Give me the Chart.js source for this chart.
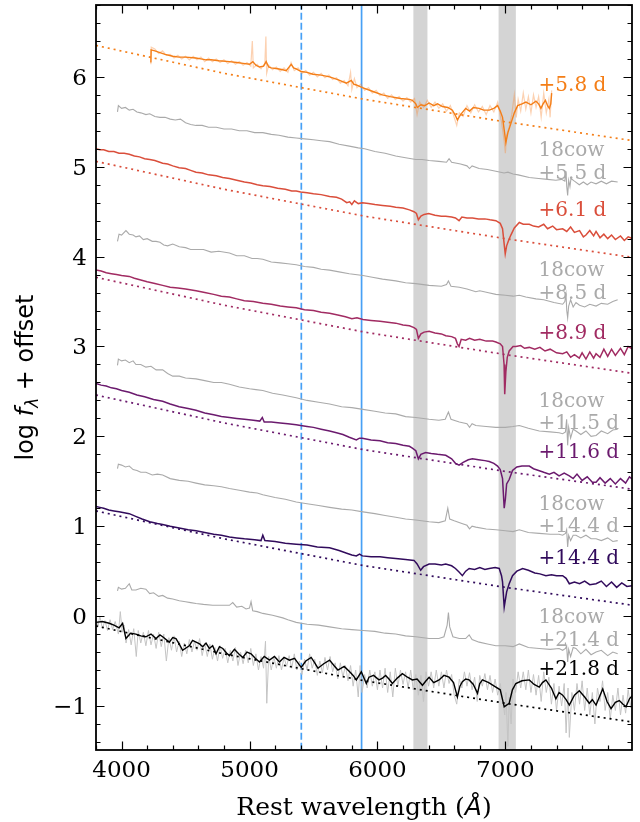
<!DOCTYPE html>
<html>
<head>
<meta charset="utf-8">
<title>Spectral sequence</title>
<script src="https://cdn.jsdelivr.net/npm/chart.js@4.4.1/dist/chart.umd.min.js"></script>
<style>
  html, body { margin: 0; padding: 0; background: #fff; }
  #wrap { width: 640px; height: 822px; }
</style>
</head>
<body>
<div id="wrap"><canvas id="spectra" width="640" height="822"></canvas></div>
<script>
// spectra as [rest wavelength, log f + offset] pairs
const spec58 = [[4229,6.16],[4231,6.30],[4260,6.29],[4300,6.27],[4340,6.25],[4400,6.23],[4450,6.22],[4500,6.22],[4580,6.21],[4620,6.20],[4660,6.19],[4700,6.19],[4760,6.18],[4843,6.17],[4900,6.16],[4950,6.15],[5000,6.14],[5026,6.17],[5050,6.13],[5078,6.11],[5110,6.12],[5130,6.17],[5150,6.11],[5169,6.10],[5220,6.09],[5260,6.08],[5287,6.07],[5326,6.14],[5345,6.10],[5365,6.09],[5404,6.06],[5450,6.05],[5496,6.03],[5560,6.02],[5626,6.00],[5690,5.97],[5757,5.93],[5796,5.96],[5815,5.92],[5835,5.91],[5882,5.88],[5960,5.84],[6038,5.80],[6100,5.78],[6180,5.76],[6250,5.75],[6273,5.74],[6300,5.70],[6312,5.66],[6340,5.69],[6370,5.68],[6404,5.71],[6440,5.68],[6470,5.70],[6508,5.67],[6550,5.66],[6586,5.63],[6610,5.57],[6625,5.52],[6650,5.58],[6690,5.65],[6720,5.62],[6750,5.66],[6795,5.65],[6830,5.63],[6874,5.63],[6910,5.65],[6939,5.68],[6960,5.62],[6978,5.55],[6992,5.40],[7004,5.27],[7020,5.38],[7043,5.48],[7070,5.60],[7096,5.68],[7130,5.70],[7161,5.72],[7200,5.69],[7239,5.73],[7260,5.70],[7278,5.65],[7295,5.70],[7313,5.74],[7330,5.68],[7344,5.65],[7355,5.70],[7362,5.82]];
const raw58 = [[4229,6.14],[4232,6.33],[4260,6.31],[4290,6.26],[4320,6.29],[4350,6.24],[4380,6.25],[4410,6.21],[4440,6.24],[4470,6.20],[4500,6.23],[4530,6.19],[4560,6.23],[4590,6.19],[4620,6.22],[4650,6.17],[4680,6.21],[4710,6.17],[4740,6.20],[4770,6.16],[4800,6.19],[4830,6.15],[4860,6.18],[4890,6.14],[4920,6.17],[4950,6.13],[4980,6.16],[5010,6.12],[5022,6.40],[5030,6.10],[5060,6.14],[5090,6.09],[5120,6.15],[5128,6.45],[5134,6.04],[5150,6.13],[5180,6.08],[5210,6.11],[5240,6.06],[5270,6.10],[5300,6.05],[5325,6.16],[5350,6.07],[5380,6.10],[5410,6.04],[5440,6.07],[5470,6.02],[5500,6.05],[5530,6.00],[5560,6.04],[5590,5.99],[5620,6.02],[5650,5.97],[5680,5.99],[5710,5.93],[5740,5.96],[5770,5.90],[5790,6.05],[5800,5.86],[5820,5.98],[5840,5.88],[5870,5.92],[5900,5.85],[5930,5.88],[5960,5.82],[5990,5.85],[6020,5.79],[6050,5.82],[6080,5.76],[6110,5.80],[6140,5.75],[6170,5.78],[6200,5.73],[6230,5.77],[6260,5.72],[6290,5.76],[6310,5.58],[6330,5.72],[6360,5.66],[6390,5.74],[6420,5.66],[6450,5.72],[6480,5.65],[6510,5.70],[6540,5.62],[6570,5.68],[6600,5.55],[6620,5.46],[6640,5.60],[6670,5.56],[6700,5.68],[6730,5.60],[6760,5.69],[6790,5.61],[6820,5.67],[6850,5.58],[6880,5.68],[6910,5.61],[6940,5.72],[6970,5.50],[6990,5.30],[7000,5.15],[7010,5.35],[7030,5.44],[7050,5.58],[7070,5.80],[7085,5.55],[7100,5.75],[7120,5.62],[7140,5.82],[7160,5.64],[7180,5.78],[7200,5.60],[7220,5.80],[7240,5.66],[7260,5.78],[7280,5.55],[7300,5.82],[7320,5.60],[7340,5.75],[7350,5.55],[7362,5.85]];
const spec61 = [[3800,5.20],[3830,5.19],[3860,5.19],[3900,5.17],[3940,5.17],[3980,5.15],[4020,5.15],[4060,5.14],[4100,5.12],[4140,5.11],[4180,5.09],[4220,5.08],[4260,5.07],[4321,5.04],[4360,5.03],[4400,5.01],[4450,4.99],[4500,4.98],[4540,4.96],[4582,4.94],[4630,4.93],[4680,4.91],[4740,4.90],[4790,4.88],[4843,4.87],[4900,4.85],[4960,4.83],[5010,4.82],[5060,4.80],[5104,4.79],[5160,4.78],[5220,4.76],[5280,4.75],[5330,4.73],[5365,4.73],[5400,4.72],[5450,4.71],[5500,4.70],[5560,4.69],[5626,4.67],[5680,4.66],[5720,4.64],[5760,4.60],[5783,4.61],[5800,4.58],[5820,4.62],[5850,4.59],[5882,4.60],[5930,4.59],[5980,4.58],[6040,4.57],[6100,4.56],[6143,4.55],[6200,4.54],[6250,4.52],[6286,4.50],[6305,4.48],[6320,4.41],[6340,4.45],[6365,4.47],[6400,4.48],[6450,4.46],[6500,4.45],[6534,4.45],[6580,4.44],[6610,4.43],[6638,4.40],[6660,4.44],[6700,4.43],[6743,4.43],[6790,4.42],[6840,4.42],[6880,4.41],[6926,4.40],[6960,4.37],[6978,4.31],[6990,4.15],[6999,4.03],[7010,4.12],[7025,4.18],[7043,4.24],[7070,4.32],[7109,4.38],[7140,4.36],[7187,4.36],[7220,4.34],[7260,4.33],[7300,4.36],[7330,4.31],[7370,4.34],[7400,4.30],[7448,4.31],[7480,4.28],[7510,4.33],[7540,4.27],[7580,4.29],[7610,4.22],[7630,4.24],[7660,4.29],[7690,4.23],[7709,4.28],[7740,4.21],[7770,4.25],[7800,4.20],[7830,4.24],[7860,4.19],[7900,4.23],[7930,4.18],[7960,4.22],[7996,4.20]];
const spec89 = [[3800,3.85],[3840,3.84],[3880,3.82],[3920,3.81],[3960,3.80],[4000,3.79],[4060,3.78],[4100,3.76],[4150,3.74],[4200,3.72],[4260,3.70],[4321,3.68],[4380,3.66],[4440,3.65],[4500,3.64],[4582,3.62],[4650,3.60],[4720,3.58],[4780,3.56],[4843,3.55],[4900,3.53],[4960,3.51],[5030,3.50],[5104,3.48],[5170,3.47],[5240,3.45],[5300,3.44],[5365,3.43],[5430,3.41],[5500,3.40],[5560,3.38],[5626,3.37],[5690,3.35],[5750,3.33],[5800,3.31],[5840,3.32],[5887,3.30],[5950,3.29],[6020,3.28],[6080,3.27],[6143,3.26],[6200,3.24],[6250,3.23],[6286,3.21],[6305,3.19],[6320,3.09],[6340,3.14],[6365,3.16],[6404,3.17],[6450,3.15],[6500,3.14],[6534,3.12],[6580,3.11],[6610,3.09],[6625,3.03],[6638,3.00],[6655,3.08],[6690,3.07],[6720,3.09],[6760,3.07],[6800,3.08],[6850,3.06],[6900,3.06],[6926,3.05],[6960,3.03],[6978,3.00],[6990,2.80],[6995,2.47],[7004,2.72],[7015,2.88],[7030,2.95],[7060,3.00],[7082,3.00],[7120,3.01],[7150,2.98],[7187,2.99],[7230,2.97],[7270,2.99],[7310,2.95],[7350,2.97],[7400,2.93],[7448,2.92],[7480,2.94],[7510,2.88],[7540,2.91],[7578,2.87],[7600,2.93],[7630,2.86],[7660,2.94],[7690,2.87],[7709,2.92],[7740,2.88],[7770,2.97],[7800,2.89],[7830,2.97],[7860,2.90],[7900,2.98],[7930,2.91],[7960,3.00],[7996,2.97]];
const spec116 = [[3800,2.59],[3840,2.57],[3880,2.56],[3920,2.54],[3960,2.53],[4000,2.51],[4060,2.49],[4120,2.46],[4180,2.44],[4250,2.41],[4321,2.39],[4380,2.36],[4450,2.33],[4520,2.31],[4582,2.29],[4650,2.26],[4720,2.24],[4780,2.22],[4843,2.21],[4900,2.20],[4960,2.19],[5030,2.18],[5080,2.17],[5100,2.21],[5115,2.16],[5170,2.16],[5240,2.15],[5300,2.14],[5365,2.13],[5400,2.12],[5450,2.11],[5500,2.10],[5560,2.08],[5626,2.06],[5680,2.04],[5730,2.02],[5780,1.99],[5835,1.96],[5860,1.98],[5882,1.98],[5950,1.96],[6020,1.95],[6080,1.93],[6143,1.92],[6200,1.90],[6250,1.89],[6273,1.87],[6300,1.84],[6320,1.75],[6340,1.80],[6377,1.82],[6420,1.81],[6470,1.80],[6534,1.79],[6580,1.75],[6610,1.70],[6638,1.68],[6670,1.71],[6710,1.74],[6743,1.75],[6790,1.74],[6840,1.73],[6874,1.72],[6910,1.70],[6939,1.67],[6960,1.63],[6978,1.53],[6991,1.20],[7000,1.30],[7010,1.47],[7030,1.52],[7056,1.62],[7090,1.66],[7130,1.67],[7187,1.67],[7220,1.64],[7260,1.62],[7300,1.60],[7344,1.58],[7380,1.60],[7420,1.56],[7460,1.59],[7500,1.56],[7530,1.53],[7560,1.58],[7600,1.51],[7640,1.55],[7680,1.49],[7709,1.49],[7740,1.54],[7780,1.48],[7820,1.53],[7860,1.47],[7900,1.53],[7940,1.48],[7970,1.55],[7996,1.52]];
const spec144 = [[3800,1.22],[3830,1.21],[3860,1.20],[3900,1.18],[3940,1.17],[3980,1.16],[4020,1.15],[4060,1.14],[4110,1.11],[4160,1.08],[4220,1.05],[4280,1.03],[4321,1.02],[4380,1.00],[4450,0.98],[4520,0.96],[4582,0.95],[4650,0.93],[4720,0.91],[4780,0.90],[4843,0.88],[4900,0.87],[4960,0.86],[5040,0.85],[5090,0.84],[5104,0.90],[5120,0.84],[5200,0.83],[5280,0.81],[5365,0.80],[5450,0.79],[5530,0.77],[5626,0.76],[5700,0.73],[5760,0.70],[5800,0.68],[5835,0.67],[5860,0.69],[5882,0.67],[5950,0.66],[6020,0.66],[6080,0.65],[6143,0.64],[6220,0.63],[6286,0.62],[6310,0.58],[6338,0.51],[6360,0.55],[6404,0.58],[6450,0.58],[6500,0.57],[6534,0.58],[6580,0.56],[6610,0.53],[6638,0.49],[6664,0.45],[6690,0.50],[6717,0.53],[6760,0.52],[6800,0.54],[6840,0.52],[6874,0.53],[6920,0.54],[6952,0.53],[6970,0.45],[6978,0.38],[6991,0.10],[7000,0.18],[7010,0.27],[7030,0.36],[7056,0.45],[7090,0.50],[7135,0.53],[7180,0.51],[7230,0.48],[7270,0.47],[7317,0.45],[7360,0.46],[7400,0.45],[7448,0.45],[7475,0.42],[7500,0.36],[7540,0.38],[7580,0.36],[7620,0.39],[7660,0.35],[7709,0.36],[7750,0.39],[7790,0.33],[7830,0.38],[7870,0.32],[7910,0.37],[7950,0.33],[7996,0.34]];
const spec218 = [[3800,-0.07],[3850,-0.06],[3903,-0.08],[3940,-0.10],[3981,-0.13],[4008,-0.08],[4034,-0.25],[4070,-0.19],[4112,-0.20],[4150,-0.22],[4190,-0.23],[4230,-0.20],[4269,-0.25],[4300,-0.21],[4321,-0.23],[4373,-0.29],[4400,-0.24],[4425,-0.25],[4450,-0.31],[4477,-0.38],[4529,-0.33],[4555,-0.27],[4582,-0.29],[4610,-0.31],[4634,-0.34],[4660,-0.30],[4686,-0.36],[4712,-0.33],[4738,-0.42],[4765,-0.34],[4791,-0.36],[4820,-0.41],[4843,-0.44],[4882,-0.37],[4915,-0.42],[4947,-0.46],[4980,-0.40],[5012,-0.42],[5045,-0.47],[5078,-0.51],[5115,-0.45],[5156,-0.49],[5195,-0.45],[5234,-0.51],[5270,-0.46],[5312,-0.49],[5352,-0.47],[5378,-0.52],[5404,-0.57],[5440,-0.50],[5482,-0.46],[5510,-0.52],[5535,-0.58],[5580,-0.53],[5626,-0.49],[5660,-0.55],[5691,-0.60],[5740,-0.56],[5783,-0.62],[5810,-0.66],[5835,-0.71],[5874,-0.62],[5913,-0.75],[5934,-0.68],[5970,-0.66],[6012,-0.71],[6040,-0.69],[6064,-0.66],[6090,-0.70],[6117,-0.75],[6155,-0.69],[6195,-0.64],[6235,-0.68],[6273,-0.71],[6310,-0.70],[6352,-0.77],[6380,-0.72],[6404,-0.68],[6440,-0.74],[6482,-0.71],[6520,-0.66],[6560,-0.68],[6595,-0.74],[6625,-0.90],[6645,-0.78],[6664,-0.73],[6690,-0.70],[6717,-0.71],[6750,-0.76],[6782,-0.86],[6800,-0.75],[6821,-0.71],[6870,-0.74],[6926,-0.79],[6960,-0.82],[6991,-1.01],[7030,-0.97],[7055,-0.82],[7082,-0.75],[7130,-0.72],[7187,-0.71],[7225,-0.76],[7265,-0.79],[7290,-0.74],[7317,-0.71],[7360,-0.80],[7395,-0.92],[7420,-0.85],[7448,-0.88],[7475,-0.93],[7500,-0.99],[7540,-0.88],[7578,-0.83],[7620,-0.90],[7656,-0.97],[7680,-0.93],[7709,-0.99],[7735,-0.90],[7761,-0.81],[7795,-0.95],[7826,-1.03],[7860,-0.96],[7891,-0.94],[7920,-0.98],[7943,-1.01],[7970,-0.92],[7996,-0.88]];
const raw218 = [[3800,-0.02],[3815,-0.12],[3830,0.00],[3850,-0.14],[3870,-0.05],[3890,-0.16],[3910,-0.04],[3930,-0.15],[3950,-0.06],[3975,-0.20],[3990,0.05],[4005,-0.18],[4020,-0.10],[4035,-0.30],[4055,-0.15],[4075,-0.32],[4095,-0.14],[4115,-0.45],[4130,-0.16],[4150,-0.30],[4170,-0.18],[4190,-0.33],[4210,-0.16],[4230,-0.32],[4250,-0.20],[4270,-0.36],[4290,-0.18],[4310,-0.34],[4330,-0.20],[4350,-0.50],[4370,-0.24],[4390,-0.38],[4410,-0.22],[4430,-0.40],[4450,-0.28],[4470,-0.45],[4490,-0.30],[4510,-0.42],[4530,-0.26],[4550,-0.40],[4570,-0.28],[4590,-0.38],[4610,-0.25],[4630,-0.44],[4650,-0.30],[4670,-0.45],[4690,-0.31],[4710,-0.48],[4730,-0.35],[4750,-0.50],[4770,-0.33],[4790,-0.47],[4810,-0.36],[4830,-0.52],[4850,-0.38],[4870,-0.50],[4890,-0.35],[4910,-0.55],[4930,-0.40],[4950,-0.53],[4970,-0.38],[4990,-0.52],[5010,-0.36],[5030,-0.55],[5050,-0.42],[5070,-0.60],[5090,-0.45],[5110,-0.58],[5125,-0.28],[5135,-0.97],[5150,-0.45],[5170,-0.60],[5190,-0.45],[5210,-0.58],[5230,-0.44],[5250,-0.60],[5270,-0.46],[5290,-0.56],[5310,-0.44],[5330,-0.58],[5350,-0.42],[5370,-0.60],[5390,-0.50],[5410,-0.65],[5430,-0.48],[5450,-0.60],[5470,-0.42],[5490,-0.58],[5510,-0.48],[5530,-0.66],[5550,-0.50],[5570,-0.63],[5590,-0.46],[5610,-0.60],[5630,-0.45],[5650,-0.62],[5670,-0.52],[5690,-0.70],[5710,-0.52],[5730,-0.68],[5750,-0.55],[5770,-0.72],[5790,-0.55],[5810,-0.78],[5830,-0.60],[5850,-0.90],[5865,-0.55],[5880,-0.85],[5900,-0.65],[5920,-0.80],[5940,-0.60],[5960,-0.78],[5980,-0.62],[6000,-0.82],[6020,-0.60],[6040,-0.80],[6060,-0.58],[6080,-0.85],[6100,-0.62],[6120,-0.90],[6140,-0.58],[6160,-0.78],[6180,-0.60],[6200,-0.76],[6220,-0.62],[6240,-0.80],[6260,-0.60],[6280,-0.82],[6300,-0.65],[6320,-0.88],[6340,-0.66],[6360,-0.95],[6380,-0.62],[6400,-0.78],[6420,-0.62],[6440,-0.80],[6460,-0.60],[6480,-0.78],[6500,-0.62],[6520,-0.80],[6540,-0.60],[6560,-0.75],[6580,-0.65],[6600,-0.88],[6620,-0.98],[6640,-0.70],[6660,-0.80],[6680,-0.62],[6700,-0.78],[6720,-0.63],[6740,-0.82],[6760,-0.68],[6780,-0.95],[6800,-0.66],[6820,-0.78],[6840,-0.64],[6860,-0.82],[6880,-0.66],[6900,-0.85],[6920,-0.70],[6940,-0.88],[6960,-0.75],[6980,-0.95],[6995,-1.10],[7005,-0.85],[7020,-1.45],[7030,-0.90],[7045,-1.20],[7060,-0.70],[7080,-0.85],[7100,-0.62],[7120,-0.80],[7140,-0.62],[7160,-0.82],[7180,-0.60],[7200,-0.85],[7220,-0.65],[7240,-0.88],[7260,-0.66],[7280,-0.95],[7300,-0.62],[7320,-0.85],[7340,-0.68],[7360,-0.98],[7380,-0.75],[7400,-1.05],[7420,-0.78],[7440,-1.00],[7460,-0.75],[7475,-1.30],[7490,-0.80],[7500,-1.35],[7520,-0.85],[7540,-1.05],[7560,-0.75],[7580,-0.98],[7600,-0.72],[7620,-1.05],[7640,-0.80],[7660,-1.10],[7680,-0.85],[7700,-1.20],[7720,-0.80],[7740,-0.95],[7760,-0.72],[7780,-1.05],[7800,-0.85],[7820,-1.15],[7840,-0.88],[7860,-1.05],[7880,-0.80],[7900,-1.10],[7920,-0.88],[7940,-1.08],[7960,-0.82],[7980,-1.02],[7996,-0.85]];

// AT2018cow comparison spectra
const cow55 = [[3968,5.61],[3975,5.68],[4000,5.65],[4030,5.66],[4060,5.63],[4090,5.64],[4120,5.61],[4150,5.60],[4190,5.58],[4220,5.59],[4260,5.56],[4300,5.55],[4340,5.55],[4380,5.53],[4420,5.52],[4460,5.53],[4500,5.49],[4540,5.47],[4582,5.46],[4630,5.46],[4680,5.44],[4740,5.44],[4800,5.42],[4860,5.42],[4920,5.40],[4980,5.40],[5040,5.38],[5104,5.38],[5170,5.36],[5230,5.35],[5300,5.33],[5365,5.32],[5430,5.31],[5500,5.30],[5560,5.29],[5626,5.28],[5700,5.25],[5780,5.23],[5850,5.21],[5900,5.20],[5980,5.17],[6060,5.15],[6143,5.12],[6220,5.10],[6300,5.08],[6350,5.08],[6404,5.07],[6480,5.06],[6540,5.05],[6560,5.09],[6580,5.05],[6650,5.03],[6700,5.01],[6720,4.98],[6740,5.01],[6795,4.98],[6860,4.97],[6926,4.95],[6990,4.93],[7020,4.94],[7060,4.92],[7100,4.91],[7187,4.88],[7260,4.87],[7330,4.86],[7395,4.85],[7440,4.86],[7465,4.84],[7474,4.95],[7480,4.78],[7487,4.68],[7495,4.85],[7505,4.78],[7513,4.87],[7540,4.84],[7578,4.80],[7610,4.83],[7640,4.80],[7670,4.83],[7709,4.81],[7750,4.84],[7790,4.81],[7830,4.84],[7878,4.83]];
const cow85 = [[3968,4.17],[3980,4.25],[4000,4.24],[4034,4.29],[4060,4.25],[4090,4.24],[4112,4.22],[4140,4.23],[4170,4.19],[4200,4.20],[4240,4.17],[4269,4.17],[4300,4.16],[4330,4.13],[4360,4.12],[4400,4.14],[4451,4.11],[4500,4.10],[4540,4.08],[4582,4.08],[4640,4.08],[4700,4.05],[4760,4.06],[4843,4.04],[4900,4.01],[4960,4.01],[5020,3.98],[5060,3.98],[5104,3.97],[5170,3.94],[5240,3.93],[5300,3.92],[5365,3.91],[5430,3.89],[5500,3.88],[5560,3.86],[5626,3.85],[5700,3.83],[5780,3.81],[5887,3.79],[5960,3.77],[6040,3.75],[6143,3.73],[6220,3.71],[6300,3.70],[6404,3.68],[6500,3.67],[6540,3.69],[6555,3.73],[6575,3.67],[6640,3.66],[6700,3.64],[6769,3.61],[6800,3.62],[6860,3.60],[6926,3.58],[7000,3.57],[7060,3.56],[7109,3.57],[7160,3.55],[7239,3.53],[7300,3.52],[7380,3.49],[7448,3.47],[7465,3.50],[7474,3.58],[7480,3.40],[7487,3.32],[7495,3.45],[7510,3.52],[7530,3.44],[7552,3.49],[7580,3.46],[7620,3.44],[7660,3.47],[7709,3.45],[7750,3.48],[7800,3.47],[7840,3.50],[7878,3.52]];
const cow115 = [[3968,2.79],[3975,2.86],[4000,2.84],[4030,2.85],[4060,2.82],[4090,2.84],[4112,2.80],[4150,2.80],[4190,2.77],[4230,2.78],[4270,2.74],[4321,2.74],[4360,2.70],[4400,2.67],[4451,2.67],[4500,2.65],[4582,2.64],[4650,2.62],[4720,2.60],[4780,2.60],[4843,2.58],[4920,2.55],[5000,2.53],[5050,2.52],[5104,2.51],[5180,2.48],[5260,2.46],[5365,2.43],[5450,2.40],[5540,2.38],[5626,2.36],[5720,2.33],[5800,2.32],[5887,2.30],[5980,2.28],[6060,2.26],[6143,2.25],[6220,2.22],[6300,2.21],[6404,2.19],[6480,2.18],[6530,2.19],[6555,2.27],[6575,2.19],[6640,2.16],[6700,2.14],[6720,2.10],[6740,2.14],[6769,2.12],[6850,2.11],[6926,2.10],[7000,2.10],[7060,2.11],[7109,2.12],[7180,2.09],[7265,2.06],[7350,2.05],[7420,2.04],[7448,2.03],[7470,2.05],[7479,2.19],[7487,1.90],[7495,2.10],[7510,1.98],[7530,2.08],[7552,2.06],[7590,2.02],[7630,2.06],[7670,2.00],[7709,2.01],[7750,2.06],[7800,2.03],[7840,2.07],[7878,2.08]];
const cow144 = [[3968,1.64],[3975,1.69],[4000,1.68],[4030,1.66],[4060,1.67],[4090,1.63],[4120,1.62],[4150,1.60],[4190,1.60],[4240,1.57],[4280,1.58],[4321,1.57],[4380,1.53],[4451,1.51],[4520,1.50],[4582,1.48],[4650,1.46],[4720,1.45],[4780,1.44],[4843,1.42],[4920,1.40],[5000,1.38],[5060,1.37],[5104,1.35],[5200,1.32],[5280,1.30],[5365,1.27],[5450,1.25],[5540,1.23],[5626,1.21],[5720,1.19],[5800,1.18],[5887,1.16],[5980,1.14],[6060,1.12],[6143,1.10],[6220,1.08],[6300,1.07],[6404,1.05],[6480,1.04],[6530,1.06],[6550,1.20],[6565,1.08],[6600,1.06],[6660,1.03],[6700,1.01],[6720,0.97],[6740,1.00],[6769,0.99],[6850,0.97],[6926,0.96],[7000,0.95],[7060,0.94],[7109,0.96],[7180,0.93],[7265,0.92],[7350,0.91],[7420,0.91],[7448,0.90],[7470,0.92],[7479,0.96],[7487,0.77],[7495,0.90],[7510,0.84],[7530,0.90],[7552,0.90],[7590,0.87],[7630,0.90],[7670,0.86],[7709,0.86],[7750,0.84],[7800,0.87],[7840,0.83],[7878,0.84]];
const cow214 = [[3968,0.28],[3975,0.32],[4000,0.30],[4030,0.31],[4060,0.36],[4080,0.29],[4112,0.29],[4150,0.31],[4190,0.30],[4220,0.25],[4250,0.26],[4290,0.22],[4321,0.23],[4360,0.20],[4400,0.19],[4451,0.17],[4500,0.16],[4540,0.15],[4582,0.14],[4640,0.13],[4712,0.12],[4780,0.12],[4843,0.12],[4869,0.15],[4900,0.10],[4940,0.11],[4973,0.08],[5000,0.09],[5012,0.16],[5025,0.06],[5060,0.05],[5104,0.03],[5180,0.01],[5260,-0.02],[5300,-0.04],[5365,-0.07],[5450,-0.09],[5540,-0.10],[5626,-0.12],[5720,-0.14],[5800,-0.15],[5887,-0.16],[5980,-0.17],[6060,-0.19],[6143,-0.20],[6220,-0.22],[6300,-0.23],[6404,-0.25],[6480,-0.25],[6520,-0.23],[6545,-0.10],[6555,0.04],[6565,-0.12],[6590,-0.23],[6640,-0.25],[6690,-0.25],[6717,-0.21],[6740,-0.26],[6795,-0.29],[6860,-0.31],[6926,-0.33],[7000,-0.33],[7060,-0.34],[7109,-0.31],[7180,-0.35],[7265,-0.36],[7350,-0.37],[7420,-0.36],[7448,-0.38],[7470,-0.36],[7479,-0.33],[7487,-0.51],[7495,-0.37],[7510,-0.45],[7530,-0.35],[7552,-0.36],[7590,-0.42],[7630,-0.37],[7670,-0.43],[7709,-0.40],[7750,-0.38],[7800,-0.44],[7840,-0.40],[7878,-0.42]];

// blackbody fits (dotted)
const fit58 = [[3800,6.35],[4800,6.04],[5900,5.75],[7000,5.50],[8000,5.29]];
const fit61 = [[3800,5.06],[4800,4.75],[5900,4.45],[7000,4.20],[8000,3.99]];
const fit89 = [[3800,3.77],[4800,3.46],[5900,3.16],[7000,2.91],[8000,2.70]];
const fit116 = [[3800,2.46],[4800,2.15],[5900,1.85],[7000,1.61],[8000,1.41]];
const fit144 = [[3800,1.17],[4800,0.86],[5900,0.56],[7000,0.32],[8000,0.12]];
const fit218 = [[3800,-0.11],[4800,-0.42],[5900,-0.72],[7000,-0.97],[8000,-1.18]];

const tellurics = [[6281, 6391], [6947, 7082]];
const dashedLine = 5405;
const solidLine = 5876;

const xTicks = [4000, 5000, 6000, 7000];
const yTicks = [-1, 0, 1, 2, 3, 4, 5, 6];

// text labels: [text, colour key, wavelength, y]
const labels = [
  ['+5.8 d', 'c58', 7260, 5.92],
  ['18cow', 'cow', 7260, 5.20], ['+5.5 d', 'cow', 7260, 4.94],
  ['+6.1 d', 'c61', 7260, 4.53],
  ['18cow', 'cow', 7260, 3.86], ['+8.5 d', 'cow', 7260, 3.61],
  ['+8.9 d', 'c89', 7260, 3.16],
  ['18cow', 'cow', 7260, 2.41], ['+11.5 d', 'cow', 7260, 2.16],
  ['+11.6 d', 'c116', 7260, 1.84],
  ['18cow', 'cow', 7260, 1.26], ['+14.4 d', 'cow', 7260, 1.01],
  ['+14.4 d', 'c144', 7260, 0.66],
  ['18cow', 'cow', 7260, 0.00], ['+21.4 d', 'cow', 7260, -0.26],
  ['+21.8 d', 'c218', 7260, -0.58]
];

const colors = {
  c58: '#f47e17', c61: '#da4e3b', c89: '#a12b62', c116: '#6b1a6e', c144: '#310b5c', c218: '#000000',
  cow: '#aaaaaa', raw58: 'rgba(247,140,60,0.4)', raw218: '#c4c4c4', blue: '#47a0f5', band: '#d4d4d4'
};

const XMIN = 3800, XMAX = 7990, YMIN = -1.49, YMAX = 6.80;

function pts(arr) { return arr.map(p => ({ x: p[0], y: p[1] })); }
function line(arr, color, width, order, dash) {
  return { data: pts(arr), borderColor: color, borderWidth: width, borderDash: dash || [],
    pointRadius: 0, tension: 0, fill: false, order: order };
}
function vline(x, dash) {
  return line([[x, YMIN - 1], [x, YMAX + 1]], colors.blue, 1.7, 20, dash);
}

const datasets = [
  vline(dashedLine, [7, 3]),
  vline(solidLine),
  line(raw58, colors.raw58, 1.2, 8),
  line(raw218, colors.raw218, 1, 8),
  line(cow55, colors.cow, 1.1, 6),
  line(cow85, colors.cow, 1.1, 6),
  line(cow115, colors.cow, 1.1, 6),
  line(cow144, colors.cow, 1.1, 6),
  line(cow214, colors.cow, 1.1, 6),
  line(fit58, colors.c58, 1.7, 4, [2, 4]),
  line(fit61, colors.c61, 1.7, 4, [2, 4]),
  line(fit89, colors.c89, 1.7, 4, [2, 4]),
  line(fit116, colors.c116, 1.7, 4, [2, 4]),
  line(fit144, colors.c144, 1.7, 4, [2, 4]),
  line(fit218, colors.c218, 1.7, 4, [2, 4]),
  line(spec58, colors.c58, 1.4, 1),
  line(spec61, colors.c61, 1.5, 1),
  line(spec89, colors.c89, 1.5, 1),
  line(spec116, colors.c116, 1.5, 1),
  line(spec144, colors.c144, 1.5, 1),
  line(spec218, colors.c218, 1.4, 1)
];

const SERIF = '"DejaVu Serif", serif';
const SANS = '"DejaVu Sans", sans-serif';

const axesDecor = {
  id: 'axesDecor',
  beforeDatasetsDraw(chart) {
    const { ctx, chartArea: a, scales: { x } } = chart;
    ctx.save();
    ctx.fillStyle = colors.band;
    tellurics.forEach(([lo, hi]) => {
      const x0 = x.getPixelForValue(lo), x1 = x.getPixelForValue(hi);
      ctx.fillRect(x0, a.top, x1 - x0, a.bottom - a.top);
    });
    ctx.restore();
  },
  afterDatasetsDraw(chart) {
    const { ctx, scales: { x, y } } = chart;
    ctx.save();
    ctx.font = '20px ' + SERIF;
    ctx.textAlign = 'left';
    ctx.textBaseline = 'alphabetic';
    labels.forEach(([txt, key, lam, v]) => {
      ctx.fillStyle = colors[key];
      ctx.fillText(txt, x.getPixelForValue(lam), y.getPixelForValue(v) + 7);
    });
    ctx.restore();
  },
  afterDraw(chart) {
    const { ctx, chartArea: a, scales: { x, y } } = chart;
    ctx.save();
    ctx.strokeStyle = '#000';
    // inward ticks on all four sides
    ctx.lineWidth = 1.2;
    ctx.beginPath();
    for (let v = 3800; v <= XMAX; v += 200) {
      const px = Math.round(x.getPixelForValue(v)) + 0.5;
      const len = v % 1000 === 0 ? 8.5 : 4.5;
      ctx.moveTo(px, a.bottom); ctx.lineTo(px, a.bottom - len);
      ctx.moveTo(px, a.top); ctx.lineTo(px, a.top + len);
    }
    for (let i = -7; i <= 34; i++) {
      const v = i / 5;
      const py = Math.round(y.getPixelForValue(v)) + 0.5;
      const len = i % 5 === 0 ? 8.5 : 4.5;
      ctx.moveTo(a.left, py); ctx.lineTo(a.left + len, py);
      ctx.moveTo(a.right, py); ctx.lineTo(a.right - len, py);
    }
    ctx.stroke();
    ctx.lineWidth = 1.8;
    ctx.strokeRect(a.left, a.top, a.right - a.left, a.bottom - a.top);

    // tick labels
    ctx.fillStyle = '#000';
    ctx.font = '23px ' + SERIF;
    ctx.textAlign = 'center';
    ctx.textBaseline = 'alphabetic';
    xTicks.forEach(v => ctx.fillText(String(v), x.getPixelForValue(v), a.bottom + 27));
    ctx.textAlign = 'right';
    yTicks.forEach(v => ctx.fillText(String(v).replace('-', '\u2212'), a.left - 9, y.getPixelForValue(v) + 8));

    // x title: serif text with an italic sans angstrom
    const parts = [['Rest wavelength (', '25px ' + SERIF], ['\u00c5', 'italic 25px ' + SANS], [')', '25px ' + SERIF]];
    let total = 0;
    parts.forEach(p => { ctx.font = p[1]; total += ctx.measureText(p[0]).width; });
    let cx = (a.left + a.right) / 2 - total / 2;
    ctx.textAlign = 'left';
    parts.forEach(p => { ctx.font = p[1]; ctx.fillText(p[0], cx, 815); cx += ctx.measureText(p[0]).width; });

    // y title: log f_lambda + offset
    ctx.translate(33, (a.top + a.bottom) / 2);
    ctx.rotate(-Math.PI / 2);
    const yParts = [['log ', '24px ' + SANS, 0], ['f', 'italic 24px ' + SANS, 0], ['\u03bb', 'italic 17px ' + SANS, 5], [' + offset', '24px ' + SANS, 0]];
    total = 0;
    yParts.forEach(p => { ctx.font = p[1]; total += ctx.measureText(p[0]).width; });
    cx = -total / 2;
    yParts.forEach(p => { ctx.font = p[1]; ctx.fillText(p[0], cx, p[2]); cx += ctx.measureText(p[0]).width; });
    ctx.restore();
  }
};

new Chart(document.getElementById('spectra'), {
  type: 'line',
  data: { datasets: datasets },
  options: {
    responsive: false,
    animation: false,
    parsing: false,
    layout: { padding: { top: 5, right: 8, left: 0, bottom: 0 } },
    plugins: { legend: { display: false }, tooltip: { enabled: false } },
    scales: {
      x: {
        type: 'linear', min: XMIN, max: XMAX,
        grid: { display: false }, border: { display: false },
        ticks: { display: false, stepSize: 1000 },
        afterFit: s => { s.height = 72; }
      },
      y: {
        type: 'linear', min: YMIN, max: YMAX,
        grid: { display: false }, border: { display: false },
        ticks: { display: false, stepSize: 1 },
        afterFit: s => { s.width = 96; }
      }
    }
  },
  plugins: [axesDecor]
});
</script>
</body>
</html>
